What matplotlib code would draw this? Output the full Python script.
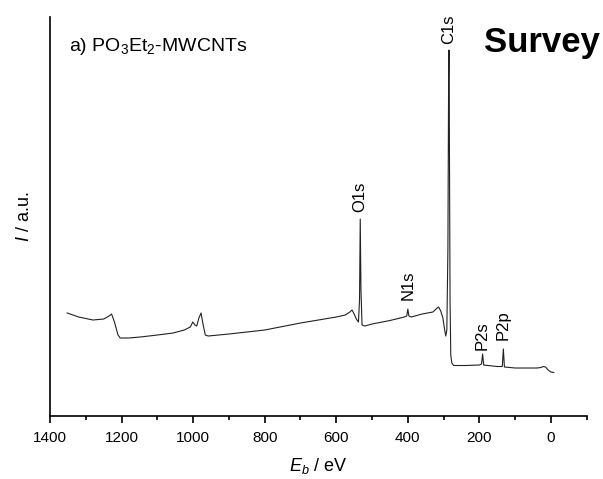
import numpy as np
import matplotlib
matplotlib.use('Agg')
import matplotlib.pyplot as plt
from matplotlib.ticker import MultipleLocator

plt.rcParams['font.family'] = ['Liberation Sans', 'DejaVu Sans']
plt.rcParams['mathtext.fontset'] = 'custom'
plt.rcParams['mathtext.rm'] = 'Liberation Sans'
plt.rcParams['mathtext.it'] = 'Liberation Sans:italic'

# binding energy (eV) and intensity (a.u.)
energy = [1352, 1320, 1280, 1250, 1235, 1228, 1220, 1210, 1204, 1180,
          1148, 1100, 1056, 1025, 1008, 1001, 995, 990, 984, 978,
          972, 966, 958, 900, 800, 700, 600, 575, 562, 556,
          550, 544, 538, 535, 533, 531, 528, 520, 500, 450,
          410, 403, 400, 397, 390, 360, 330, 318, 314, 308,
          302, 297, 294, 291, 288, 286, 285, 284, 282, 280,
          277, 272, 240, 200, 194, 191, 188, 150, 136, 133,
          130, 100, 40, 28, 22, 15, 8, 0, -8]
intensity = [103, 99, 96, 97, 100, 102, 94, 81, 78, 78,
             79, 81, 83, 86, 89, 94, 91, 90, 98, 103,
             91, 81, 80, 82, 86, 93, 99, 101, 104, 106,
             102, 97, 94, 116, 197, 126, 91, 90, 92, 95.5,
             99, 100, 107, 100, 99, 102, 104, 108, 109, 105,
             98, 86, 80, 86, 166, 336, 366, 296, 116, 61,
             53, 50.5, 50.5, 51, 52, 62, 51, 49.5, 49.5, 67,
             49, 48, 48, 48.5, 49.5, 49, 46, 44, 43.5]

peak_labels = ['O1s', 'N1s', 'C1s', 'P2s', 'P2p']
peak_pos = [533, 400, 285, 191, 133]
label_base = [204, 116, 372, 66, 76]

fig = plt.figure(figsize=(6.03, 4.79), dpi=100)
ax = fig.add_axes([0.083, 0.1315, 0.89, 0.833])

ax.plot(energy, intensity, color='#222222', lw=0.8)

for lab, e, b in zip(peak_labels, peak_pos, label_base):
    ax.text(e, b, lab, rotation=90, ha='center', va='bottom', fontsize=12)

ax.text(0.035, 0.925, 'a) PO$_3$Et$_2$-MWCNTs', transform=ax.transAxes,
        fontsize=14, ha='left', va='center')
ax.text(1.025, 0.935, 'Survey', transform=ax.transAxes, fontsize=25,
        fontweight='bold', ha='right', va='center')

ax.set_xlim(1400, -100)
ax.set_ylim(0, 399)
ax.xaxis.set_major_locator(MultipleLocator(200))
ax.xaxis.set_minor_locator(MultipleLocator(100))
ax.tick_params(axis='x', which='major', direction='out', length=5, width=1.2,
               labelsize=11, pad=6)
ax.tick_params(axis='x', which='minor', direction='out', length=3, width=1.2)
ax.set_yticks([])
ax.spines['top'].set_visible(False)
ax.spines['right'].set_visible(False)
ax.spines['left'].set_linewidth(1.2)
ax.spines['bottom'].set_linewidth(1.2)

ax.set_xlabel('$E_b$ / eV', fontsize=13, labelpad=8)
ax.set_ylabel('$I$ / a.u.', fontsize=13, labelpad=12)

fig.savefig('out.png', dpi=100)
